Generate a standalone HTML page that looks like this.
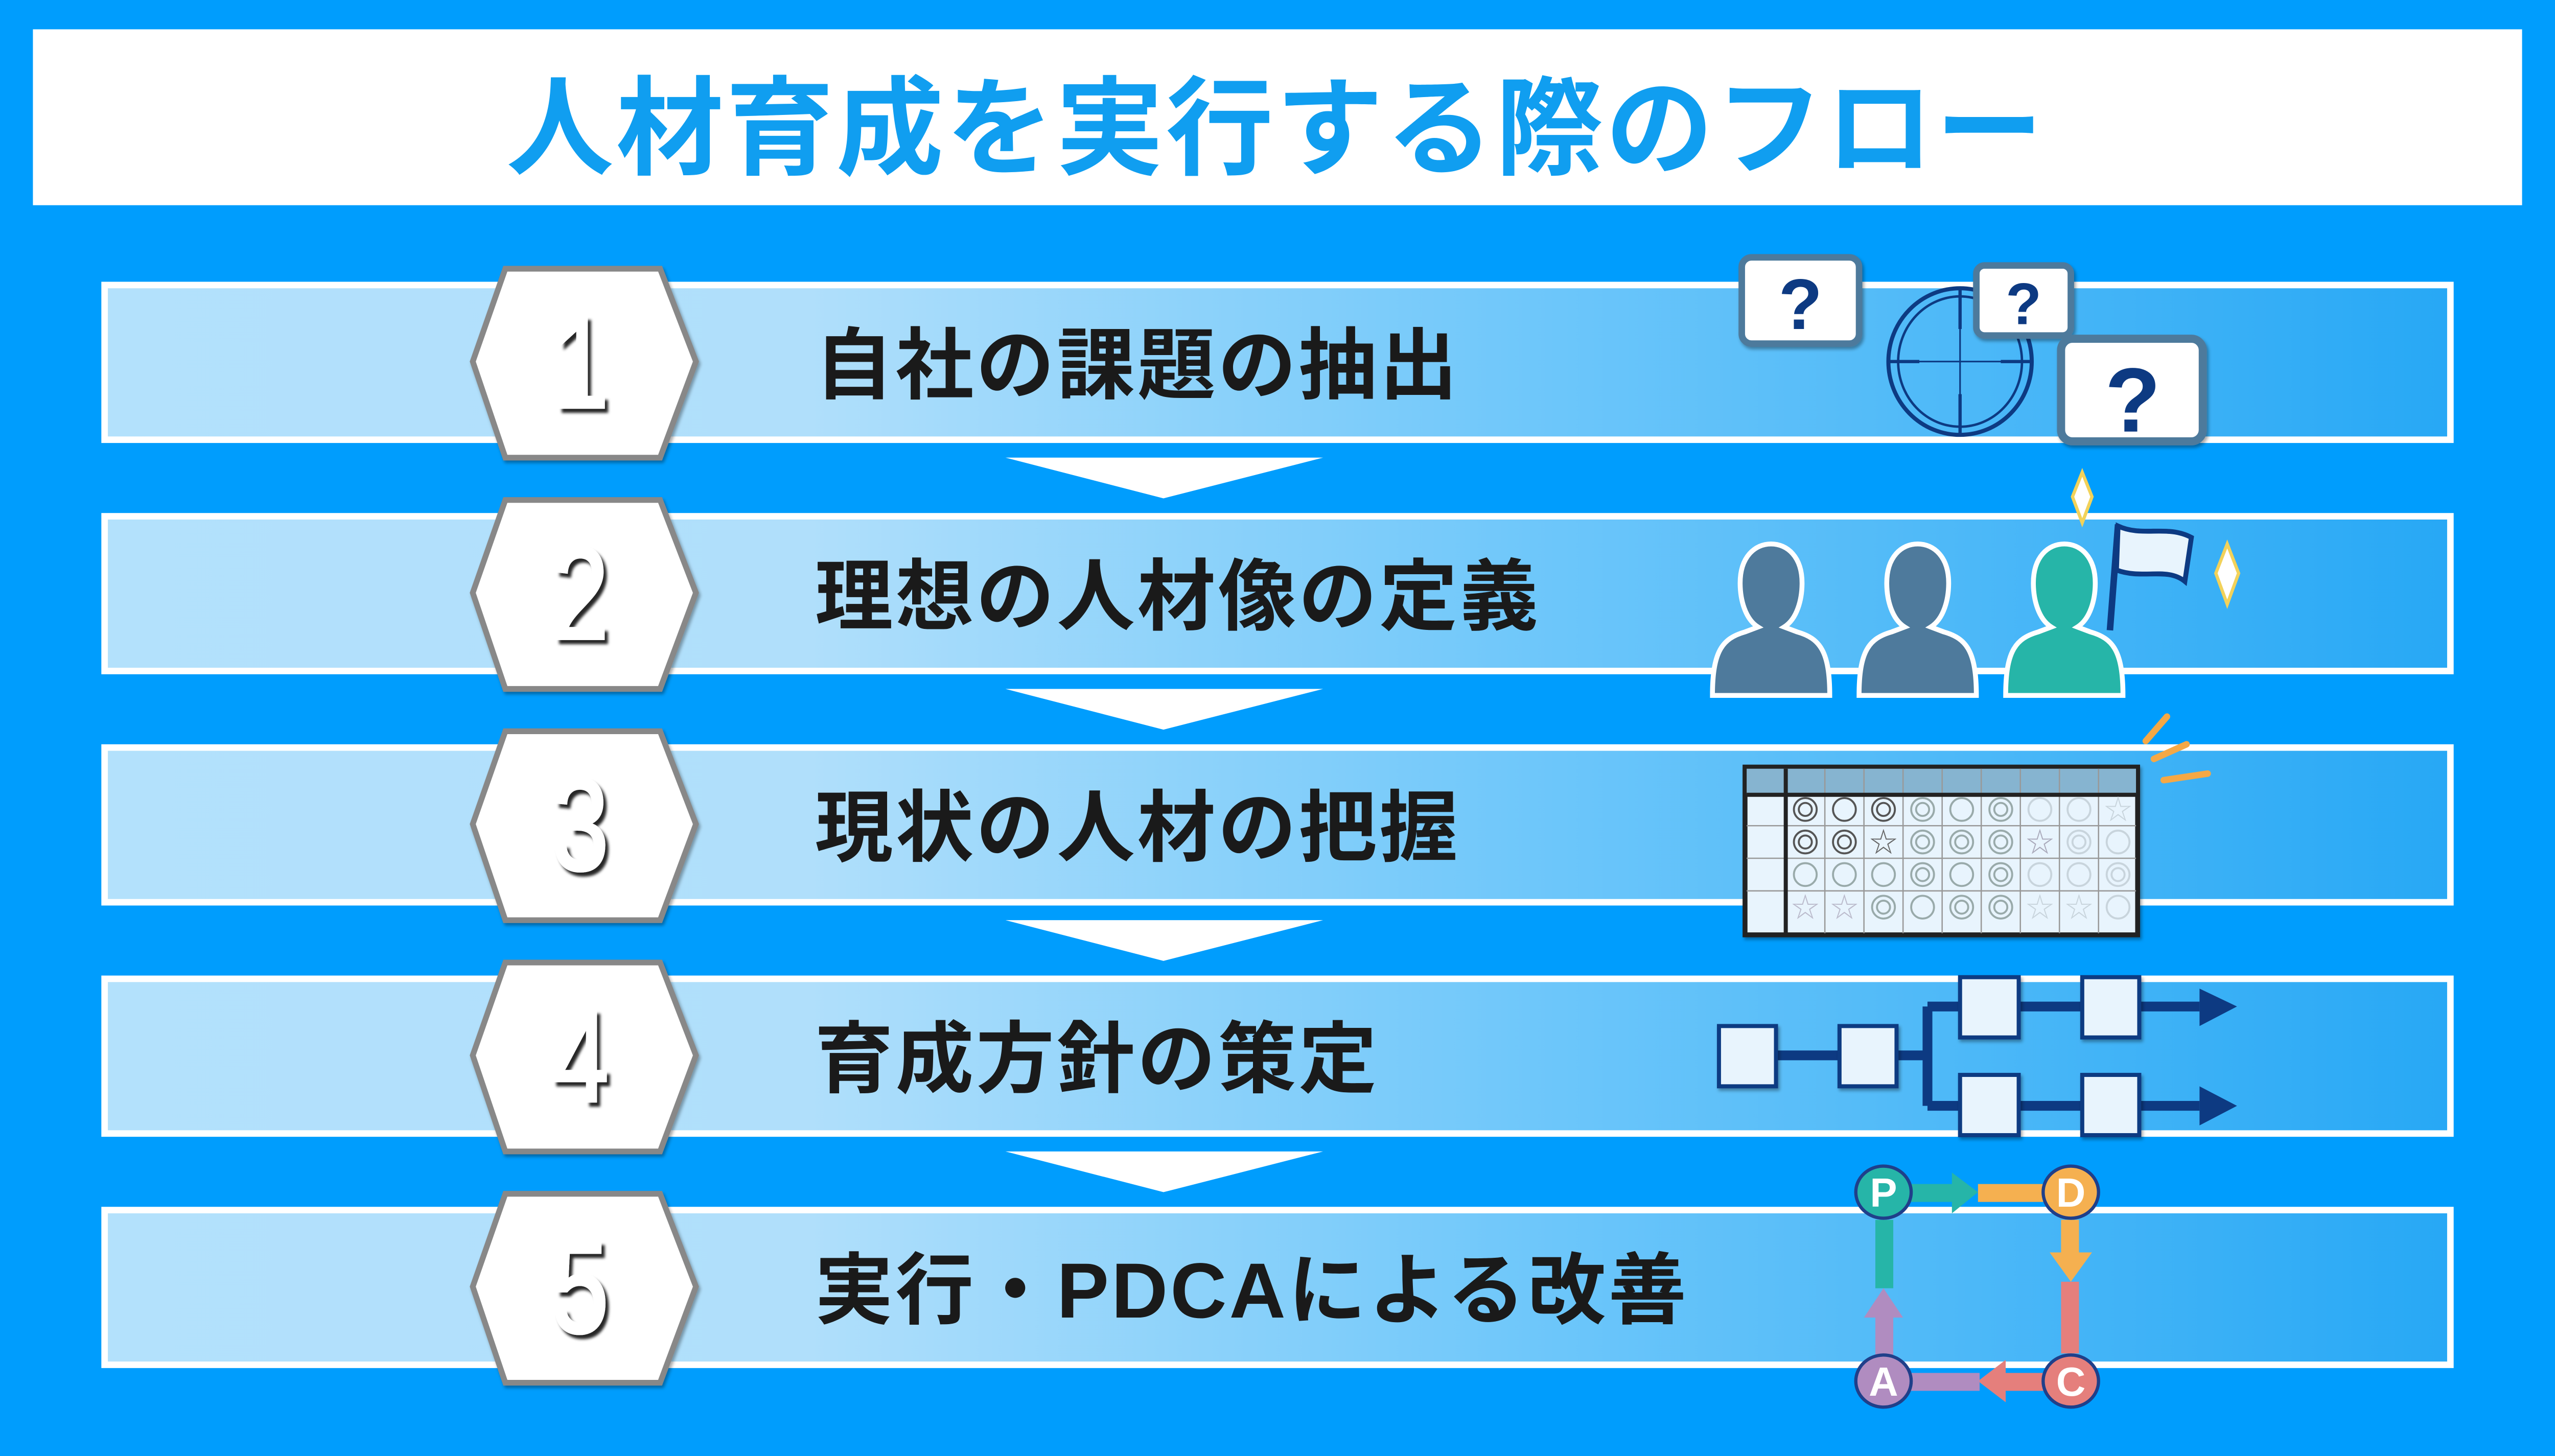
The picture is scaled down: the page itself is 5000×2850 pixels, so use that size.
<!DOCTYPE html>
<html><head><meta charset="utf-8"><style>
html,body{margin:0;padding:0;background:#009dfd;}
svg{display:block}
text{font-family:"Liberation Sans","Noto Sans CJK JP",sans-serif;}
</style></head><body>
<svg width="5000" height="2850" viewBox="0 0 1568 894" xmlns="http://www.w3.org/2000/svg">
<defs>
<linearGradient id="g" x1="0" x2="1" y1="0" y2="0">
<stop offset="0" stop-color="#b3e1fc"/><stop offset="0.3" stop-color="#b0dffb"/><stop offset="0.62" stop-color="#6cc6fa"/><stop offset="1" stop-color="#27a8f5"/>
</linearGradient>
<filter id="sh" x="-30%" y="-30%" width="160%" height="160%"><feDropShadow dx="2" dy="2.5" stdDeviation="0.8" flood-color="#000" flood-opacity="0.85"/></filter>
<filter id="sh2" x="-20%" y="-20%" width="140%" height="140%"><feDropShadow dx="1" dy="1.5" stdDeviation="1" flood-color="#000" flood-opacity="0.35"/></filter>
<g id="hex"><polygon points="290,59 310,2 405,2 427,59 405,118 310,118" fill="#fff" stroke="#888" stroke-width="3.5" filter="url(#sh2)"/></g>
<g id="person"><path d="M-36,67 C-36,40 -30,32 -16,28 L-8,25 C-16,20 -19,8 -19,-2 C-19,-18 -10,-26 0,-26 C10,-26 19,-18 19,-2 C19,8 16,20 8,25 L16,28 C30,32 36,40 36,67 Z" stroke="#fff" stroke-width="3"/></g>
</defs>
<rect width="1568" height="894" fill="#009dfd"/>
<rect x="20" y="18" width="1528" height="108" fill="#fff"/>
<text x="783" y="102" text-anchor="middle" font-size="66" font-weight="bold" letter-spacing="1.5" fill="#109ef0">人材育成を実行する際のフロー</text>

<g>
<rect x="64" y="175" width="1440" height="95" fill="url(#g)" stroke="#fff" stroke-width="4"/>
<rect x="64" y="317" width="1440" height="95" fill="url(#g)" stroke="#fff" stroke-width="4"/>
<rect x="64" y="459" width="1440" height="95" fill="url(#g)" stroke="#fff" stroke-width="4"/>
<rect x="64" y="601" width="1440" height="95" fill="url(#g)" stroke="#fff" stroke-width="4"/>
<rect x="64" y="743" width="1440" height="95" fill="url(#g)" stroke="#fff" stroke-width="4"/>
</g>
<g fill="#fff">
<polygon points="617,281 812,281 714,306"/>
<polygon points="617,423 812,423 714,448"/>
<polygon points="617,565 812,565 714,590"/>
<polygon points="617,707 812,707 714,732"/>
</g>
<use href="#hex" y="163"/><use href="#hex" y="305"/><use href="#hex" y="447"/><use href="#hex" y="589"/><use href="#hex" y="731"/>
<g filter="url(#sh)">
<g font-size="80" fill="#fff" stroke="#fff" stroke-width="2" text-anchor="middle" transform="translate(356,0) scale(0.78,1)" style="font-family:'Liberation Sans',sans-serif">
<text x="0" y="250">1</text><text x="0" y="392">2</text><text x="0" y="534">3</text><text x="0" y="676">4</text><text x="0" y="818">5</text>
</g>
</g>
<g font-size="48" font-weight="bold" fill="#1a1a1a" letter-spacing="1.5">
<text x="500" y="241">自社の課題の抽出</text>
<text x="500" y="383">理想の人材像の定義</text>
<text x="500" y="525">現状の人材の把握</text>
<text x="500" y="667">育成方針の策定</text>
<text x="500" y="809">実行・PDCAによる改善</text>
</g>

<g>
<ellipse cx="1203" cy="222" rx="44" ry="45" fill="none" stroke="#0d3a82" stroke-width="2.5"/>
<ellipse cx="1203" cy="222" rx="38" ry="40" fill="none" stroke="#0d3a82" stroke-width="1.5"/>
<path d="M1203,177 V267 M1158,222 H1248" stroke="#0d3a82" stroke-width="1"/>
<path d="M1203,177 V202 M1203,242 V267 M1158,222 H1178 M1228,222 H1248" stroke="#0d3a82" stroke-width="2"/>
<g filter="url(#sh2)">
<rect x="1069" y="158" width="72" height="53" rx="6" fill="#fff" stroke="#4e7a9c" stroke-width="4"/>
<rect x="1213" y="163" width="58" height="43" rx="5" fill="#fff" stroke="#4e7a9c" stroke-width="4"/>
<rect x="1265" y="208" width="87" height="63" rx="7" fill="#fff" stroke="#4e7a9c" stroke-width="5"/>
</g>
<g fill="#0d3a82" font-weight="bold" text-anchor="middle">
<text x="1105" y="202" font-size="44">?</text>
<text x="1242" y="199" font-size="36">?</text>
<text x="1309" y="265" font-size="56">?</text>
</g>
</g>

<g>
<use href="#person" x="1087" y="360" fill="#4e7a9c"/>
<use href="#person" x="1177" y="360" fill="#4e7a9c"/>
<use href="#person" x="1267" y="360" fill="#26b5a8"/>
<path d="M1295,387 L1300,322" stroke="#0d3a82" stroke-width="4"/>
<path d="M1300,323 C1315,330 1330,322 1345,330 L1341,357 C1330,348 1315,356 1299,350 Z" fill="#e8f4fd" stroke="#0d3a82" stroke-width="3"/>
<path d="M1278,290 L1284,305 L1278,321 L1272,305 Z" fill="#fff" stroke="#f2d25a" stroke-width="2"/>
<path d="M1367,334 L1374,352 L1367,371 L1360,352 Z" fill="#fff" stroke="#f2d25a" stroke-width="2"/>
</g>

<g>
<rect x="1071" y="471" width="241" height="103" fill="#e8f4fd" stroke="#222" stroke-width="3" filter="url(#sh2)"/>
<rect x="1072" y="472" width="239" height="16" fill="#86b4d0"/>
<g stroke="#999" stroke-width="0.8">
<path d="M1072,507 H1311 M1072,527 H1311 M1072,547 H1311"/>
<path d="M1120,472 V573 M1144,472 V573 M1168,472 V573 M1192,472 V573 M1216,472 V573 M1240,472 V573 M1264,472 V573 M1288,472 V573"/>
</g>
<path d="M1072,488 H1311 M1096,472 V573" stroke="#222" stroke-width="2.5"/>
<g fill="none" stroke="#555" stroke-width="1.2">
<circle cx="1108" cy="497" r="7"/><circle cx="1108" cy="497" r="4"/><circle cx="1132" cy="497" r="7"/>
<circle cx="1156" cy="497" r="7"/><circle cx="1156" cy="497" r="4"/>
<circle cx="1108" cy="517" r="7"/><circle cx="1108" cy="517" r="4"/><circle cx="1132" cy="517" r="7"/><circle cx="1132" cy="517" r="4"/>
</g>
<g fill="none" stroke="#9aa" stroke-width="1.2">
<circle cx="1180" cy="497" r="7"/><circle cx="1180" cy="497" r="4"/><circle cx="1204" cy="497" r="7"/><circle cx="1228" cy="497" r="7"/><circle cx="1228" cy="497" r="4"/>
<circle cx="1180" cy="517" r="7"/><circle cx="1180" cy="517" r="4"/><circle cx="1204" cy="517" r="7"/><circle cx="1204" cy="517" r="4"/><circle cx="1228" cy="517" r="7"/><circle cx="1228" cy="517" r="4"/>
<circle cx="1108" cy="537" r="7"/><circle cx="1132" cy="537" r="7"/><circle cx="1156" cy="537" r="7"/><circle cx="1180" cy="537" r="7"/><circle cx="1180" cy="537" r="4"/><circle cx="1204" cy="537" r="7"/><circle cx="1228" cy="537" r="7"/><circle cx="1228" cy="537" r="4"/>
<circle cx="1156" cy="557" r="7"/><circle cx="1156" cy="557" r="4"/><circle cx="1180" cy="557" r="7"/><circle cx="1204" cy="557" r="7"/><circle cx="1204" cy="557" r="4"/><circle cx="1228" cy="557" r="7"/><circle cx="1228" cy="557" r="4"/>
</g>
<g fill="none" stroke="#c8d4dc" stroke-width="1.2">
<circle cx="1252" cy="497" r="7"/><circle cx="1276" cy="497" r="7"/>
<circle cx="1276" cy="517" r="7"/><circle cx="1276" cy="517" r="4"/><circle cx="1300" cy="517" r="7"/>
<circle cx="1252" cy="537" r="7"/><circle cx="1276" cy="537" r="7"/><circle cx="1300" cy="537" r="7"/><circle cx="1300" cy="537" r="4"/>
<circle cx="1300" cy="557" r="7"/>
</g>
<g font-size="17" text-anchor="middle">
<text x="1300" y="503" fill="#c8d4dc">☆</text><text x="1156" y="523" fill="#666">☆</text><text x="1252" y="523" fill="#aab">☆</text>
<text x="1108" y="563" fill="#bbc">☆</text><text x="1132" y="563" fill="#bbc">☆</text><text x="1252" y="563" fill="#c8d4dc">☆</text><text x="1276" y="563" fill="#c8d4dc">☆</text>
</g>
<g stroke="#f5a845" stroke-width="4" stroke-linecap="round">
<path d="M1330,440 L1317,455"/><path d="M1342,457 L1322,466"/><path d="M1355,475 L1328,479"/>
</g>
</g>

<g>
<path d="M1090,648 H1128 M1165,648 H1183 M1183,618 V679 M1183,618 H1203 M1183,679 H1203 M1240,618 H1278 M1240,679 H1278 M1314,618 H1350 M1314,679 H1350" stroke="#0d3a82" stroke-width="6" fill="none"/>
<polygon points="1350,607 1373,618 1350,630" fill="#0d3a82"/>
<polygon points="1350,667 1373,679 1350,691" fill="#0d3a82"/>
<g fill="#e8f4fd" stroke="#0d3a82" stroke-width="2.5" filter="url(#sh2)">
<rect x="1055" y="630" width="35" height="37"/><rect x="1129" y="630" width="35" height="37"/>
<rect x="1203" y="600" width="36" height="37"/><rect x="1278" y="600" width="35" height="37"/>
<rect x="1203" y="660" width="36" height="37"/><rect x="1278" y="660" width="35" height="37"/>
</g>
</g>

<g>
<rect x="1172" y="727" width="28" height="11" fill="#26b5a8"/><polygon points="1198,720 1214,732 1198,745" fill="#26b5a8"/>
<rect x="1214" y="727" width="40" height="11" fill="#f5b050"/>
<rect x="1265" y="749" width="11" height="22" fill="#f5b050"/><polygon points="1258,769 1284,769 1271,787" fill="#f5b050"/>
<rect x="1265" y="787" width="11" height="44" fill="#e57f7c"/>
<rect x="1229" y="843" width="25" height="11" fill="#e57f7c"/><polygon points="1231,835 1231,861 1214,848" fill="#e57f7c"/>
<rect x="1172" y="843" width="43" height="11" fill="#b08cc0"/>
<rect x="1151" y="807" width="11" height="25" fill="#b08cc0"/><polygon points="1144,809 1168,809 1156,791" fill="#b08cc0"/>
<rect x="1151" y="749" width="11" height="42" fill="#26b5a8"/>
<g stroke="#1f3f8a" stroke-width="2">
<ellipse cx="1156" cy="732" rx="17" ry="16" fill="#26b5a8"/>
<ellipse cx="1271" cy="732" rx="17" ry="16" fill="#f5b050"/>
<ellipse cx="1271" cy="848" rx="17" ry="16" fill="#e57f7c"/>
<ellipse cx="1156" cy="848" rx="17" ry="16" fill="#b08cc0"/>
</g>
<g fill="#fff" font-size="25" font-weight="bold" text-anchor="middle">
<text x="1156" y="741">P</text><text x="1271" y="741">D</text><text x="1271" y="857">C</text><text x="1156" y="857">A</text>
</g>
</g>
</svg>
</body></html>
